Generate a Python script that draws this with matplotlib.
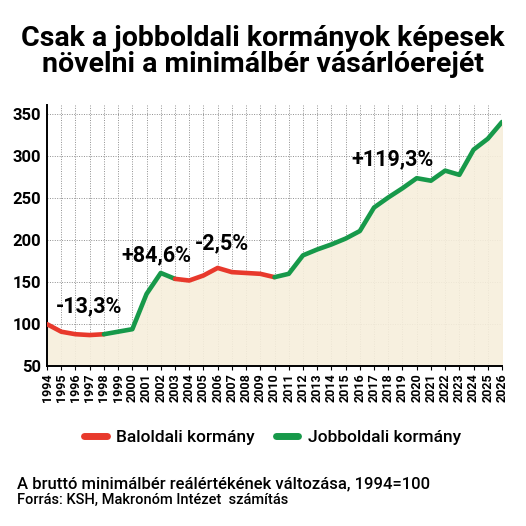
import matplotlib
matplotlib.use("Agg")
import matplotlib.pyplot as plt
from matplotlib.lines import Line2D

plt.rcParams['font.family'] = ['Roboto', 'DejaVu Sans']

# data
years = list(range(1994, 2027))
values = [100, 91, 88, 87, 88, 91, 94, 136, 161, 154, 152, 158, 167, 162, 161, 160,
          156, 160, 182, 189, 195, 202, 211, 239, 251, 262, 274, 271, 283, 278, 308, 321, 341]
# government periods: (first index, last index, side)
periods = [(0, 4, "bal"), (4, 9, "jobb"), (9, 16, "bal"), (16, 32, "jobb")]
labels = {"bal": "Baloldali kormány", "jobb": "Jobboldali kormány"}
colors = {"bal": "#e8392c", "jobb": "#17994a"}
notes = ["-13,3%", "+84,6%", "-2,5%", "+119,3%"]
note_pos = [(2.95, 121), (7.67, 182), (12.3, 196), (24.3, 296)]

x = list(range(len(years)))

fig = plt.figure(figsize=(5.26, 5.26), dpi=100)
ax = fig.add_axes([0.0894, 0.304, 0.865, 0.496])

ax.fill_between(x, 50, values, color="#f7efdc", alpha=0.9, zorder=1)
for a, b, side in periods:
    ax.plot(x[a:b + 1], values[a:b + 1], color=colors[side], lw=3.3,
            solid_capstyle="round", solid_joinstyle="round", zorder=3)

for txt, (px, py) in zip(notes, note_pos):
    ax.text(px, py, txt, fontsize=15.5, fontweight="bold", ha="center", va="center", zorder=4)

ax.set_xlim(0, len(years) - 1)
ax.set_ylim(50, 361)
ax.set_yticks([50, 100, 150, 200, 250, 300, 350])
ax.set_xticks(x)
ax.set_xticklabels([str(y) for y in years], rotation=90, fontsize=9, fontweight="bold")
for t in ax.get_yticklabels():
    t.set_fontweight("bold")
    t.set_fontsize(12)
ax.tick_params(axis="y", length=0, pad=4)
ax.tick_params(axis="x", length=3, pad=2)
ax.grid(True, color="#8f8f8f", ls=(0, (1, 1.5)), lw=0.7, zorder=0)
ax.set_axisbelow(True)
for s in ["top", "right"]:
    ax.spines[s].set_visible(False)
for s in ["left", "bottom"]:
    ax.spines[s].set_linewidth(1.4)

handles = [Line2D([0], [0], color=colors[k], lw=5, solid_capstyle="round") for k in ["bal", "jobb"]]
fig.legend(handles, [labels["bal"], labels["jobb"]], loc="center", bbox_to_anchor=(0.518, 0.169),
           ncol=2, frameon=False, handlelength=1.3, handletextpad=0.55, columnspacing=1.2,
           prop={"weight": "medium", "size": 12.5})

fig.text(0.5, 0.902, "Csak a jobboldali kormányok képesek\nnövelni a minimálbér vásárlóerejét",
         ha="center", va="center", fontsize=20.5, fontweight="bold", linespacing=0.95)
fig.text(0.032, 0.081, "A bruttó minimálbér reálértékének változása, 1994=100",
         fontsize=12, fontweight="medium", va="center")
fig.text(0.032, 0.049, "Forrás: KSH, Makronóm Intézet  számítás",
         fontsize=10.5, fontweight="medium", va="center")

fig.savefig("out.png", dpi=100)
